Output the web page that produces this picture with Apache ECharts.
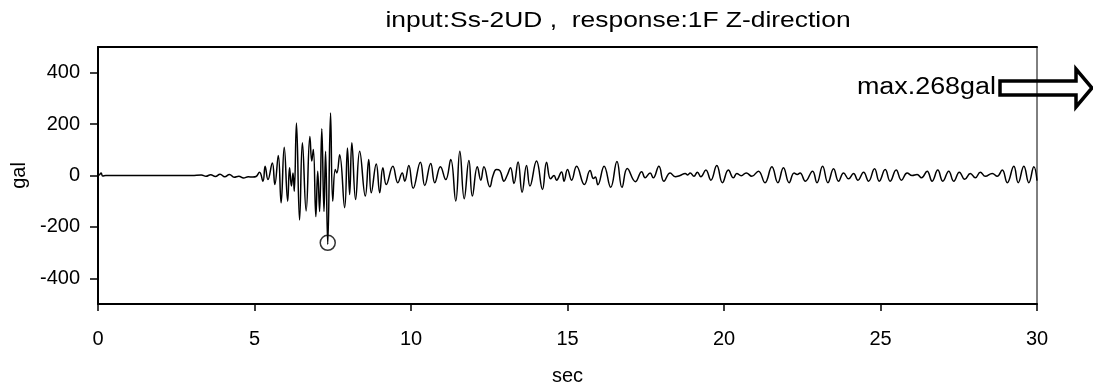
<!DOCTYPE html>
<html>
<head>
<meta charset="utf-8">
<script src="https://cdn.jsdelivr.net/npm/echarts@6/dist/echarts.min.js"></script>
<style>
html,body{margin:0;padding:0;background:#fff;}
#chart{width:1093px;height:388px;}
</style>
</head>
<body>
<div id="chart"></div>
<script>
// ---- data ----
const chartTitle = 'input:Ss-2UD ,  response:1F Z-direction';
const xName = 'sec';
const yName = 'gal';
const maxLabel = 'max.268gal';
const xTicks = [0, 5, 10, 15, 20, 25, 30];
const yTicks = [-400, -200, 0, 200, 400];
const timeSec = [
  0, 0.05, 0.1, 0.15, 0.25, 1.5, 3.0, 3.3, 3.45, 3.6, 3.75, 3.9, 4.05, 4.2, 4.35, 4.5, 4.65, 4.8, 4.95, 5.05,
  5.16, 5.27, 5.34, 5.43, 5.57, 5.65, 5.76, 5.85, 5.95, 6.06, 6.12, 6.18, 6.23, 6.27, 6.34, 6.44, 6.53, 6.65,
  6.77, 6.83, 6.88, 6.96, 7.02, 7.08, 7.15, 7.22, 7.27, 7.34, 7.43, 7.50, 7.58, 7.63, 7.72, 7.88, 7.97, 8.04,
  8.11, 8.23, 8.36, 8.54, 8.65, 8.73, 8.89, 9.00, 9.10, 9.21, 9.42, 9.58,
  9.72, 9.80, 9.93, 10.07, 10.30, 10.44, 10.63, 10.76, 10.94, 11.11, 11.27, 11.43, 11.56, 11.70, 11.85, 11.96,
  12.12, 12.23, 12.33, 12.52, 12.62, 12.73, 12.84, 12.97, 13.07, 13.18, 13.29, 13.42, 13.55, 13.69, 13.80,
  14.01, 14.20, 14.33, 14.46, 14.57, 14.65, 14.81, 14.89, 15.00, 15.13, 15.29, 15.54, 15.72, 15.83, 15.89,
  15.97, 16.17, 16.38, 16.58, 16.74, 16.91, 17.17, 17.37, 17.48, 17.64, 17.74, 17.92, 18.08, 18.28, 18.44,
  18.60, 18.76, 18.84, 18.92, 19.04, 19.15, 19.26, 19.42, 19.58, 19.77, 19.95, 20.14, 20.30, 20.41, 20.55,
  20.71, 20.89, 21.10, 21.31, 21.53, 21.72, 21.90, 22.08, 22.24, 22.34, 22.43, 22.60, 22.83, 22.97, 23.15,
  23.32, 23.50, 23.66, 23.82, 23.98, 24.14, 24.28, 24.46, 24.62, 24.81, 24.96, 25.15, 25.31, 25.50, 25.67,
  25.85, 26.01, 26.17, 26.31, 26.49, 26.65, 26.83, 26.99, 27.18, 27.34, 27.52, 27.69, 27.87, 28.03, 28.19,
  28.35, 28.57, 28.73, 28.89, 29.05, 29.26, 29.40, 29.58, 29.74, 29.90, 30.00
];
const accelGal = [
  0, 3, 10, -2, 0, 0, 0, 2, -3, 3, -4, 5, -5, 4, -7, -3, -10, -5, -6, -4,
  13, -22, 36, -16, 49, -35, 78, -106, 110, -100, 30, -41, 10, -61, 204, -173, 127, -138,
  152, 56, 101, -160, 17, -140, 182, -140, 94, -268, 243, -100, 23, 10, 81, -125, 107, -74,
  127, -93, 94, -80, 62, -67, 45, -67, 30, -35, 36, -28,
  10, -22, 39, -50, 52, -39, 47, -28, 34, -16, 62, -99, 94, -90, 58, -80,
  34, -18, 34, -44, 0, 23, 19, -22, 0, 30, -31, 53, -65, 39, -41,
  56, -54, 52, -13, 0, -18, 14, -22, 23, -18, 36, -35, 19, -12, -6,
  -36, 36, -46, 54, -46, 27, -24, 15, -9, 10, -9, 36, -22, 10, -5,
  0, 8, 2, 10, -3, 13, -5, 21, -18, 39, -28, 21, -9, 8, -1,
  10, -3, 17, -28, 34, -28, 30, -28, 10, 4, 10, -22, 17, -28, 36,
  -28, 26, -22, 10, -13, 8, -18, 13, -22, 26, -22, 23, -22, 21, -18,
  10, 0, 4, -9, 17, -22, 21, -22, 17, -22, 13, -15, 8, -9, 13,
  -3, 8, -3, 21, -28, 36, -28, 36, -28, 34, -20
];
const peakMarker = [[7.34, -262]];

const FONT = '"Liberation Sans", Arial, sans-serif';
const wave = timeSec.map((t, i) => [t, accelGal[i]]);

const chart = echarts.init(document.getElementById('chart'), null, {renderer: 'canvas'});
chart.setOption({
  animation: false,
  backgroundColor: '#fff',
  grid: {left: 98, right: 56, top: 47, bottom: 84, show: true, borderColor: '#000', borderWidth: 1,
         backgroundColor: 'transparent', containLabel: false, outerBoundsMode: 'none'},
  xAxis: [{
    type: 'value', min: 0, max: 30, interval: 5,
    name: xName, nameLocation: 'middle', nameGap: 62,
    nameTextStyle: {color: '#000', fontSize: 20, fontFamily: FONT},
    axisLine: {onZero: false, lineStyle: {color: '#000', width: 2}},
    axisTick: {show: true, length: 7, lineStyle: {color: '#000', width: 1.5}, customValues: xTicks},
    axisLabel: {color: '#000', fontSize: 20, fontFamily: FONT, margin: 25, customValues: xTicks},
    splitLine: {show: false}
  }, {
    type: 'value', min: 0, max: 30, position: 'top',
    axisLine: {onZero: false, lineStyle: {color: '#000', width: 2}},
    axisTick: {show: false}, axisLabel: {show: false}, splitLine: {show: false}
  }],
  yAxis: {
    type: 'value', min: -500, max: 500,
    name: yName, nameLocation: 'middle', nameGap: 60, nameRotate: 90,
    nameTextStyle: {color: '#000', fontSize: 20, fontFamily: FONT},
    axisLine: {onZero: false, lineStyle: {color: '#000', width: 2}},
    axisTick: {show: true, length: 8, lineStyle: {color: '#000', width: 1.5}, customValues: yTicks},
    axisLabel: {color: '#000', fontSize: 20, fontFamily: FONT, margin: 18, customValues: yTicks},
    splitLine: {show: false}
  },
  graphic: [
    {type: 'text', x: 618, y: 21, scaleX: 1.2, style: {text: chartTitle, font: '22px ' + FONT, fill: '#000', align: 'center', verticalAlign: 'middle'}},
    {type: 'text', x: 996, y: 88, scaleX: 1.17, style: {text: maxLabel, font: '23px ' + FONT, fill: '#000', align: 'right', verticalAlign: 'middle'}},
    {type: 'polygon', z: 1, shape: {points: [[1000, 81], [1076, 81], [1076, 69], [1092, 88], [1076, 107], [1076, 95], [1000, 95]]},
     style: {fill: 'transparent', stroke: '#000', lineWidth: 3.5}}
  ],
  series: [{
    type: 'line', data: wave, smooth: 0.45, showSymbol: false, symbol: 'none',
    lineStyle: {color: '#000', width: 1.5}, z: 3
  }, {
    type: 'scatter', data: peakMarker, symbol: 'circle', symbolSize: 15,
    itemStyle: {color: 'rgba(0,0,0,0)', borderColor: '#000', borderWidth: 1.5}, z: 4
  }]
});
</script>
</body>
</html>
